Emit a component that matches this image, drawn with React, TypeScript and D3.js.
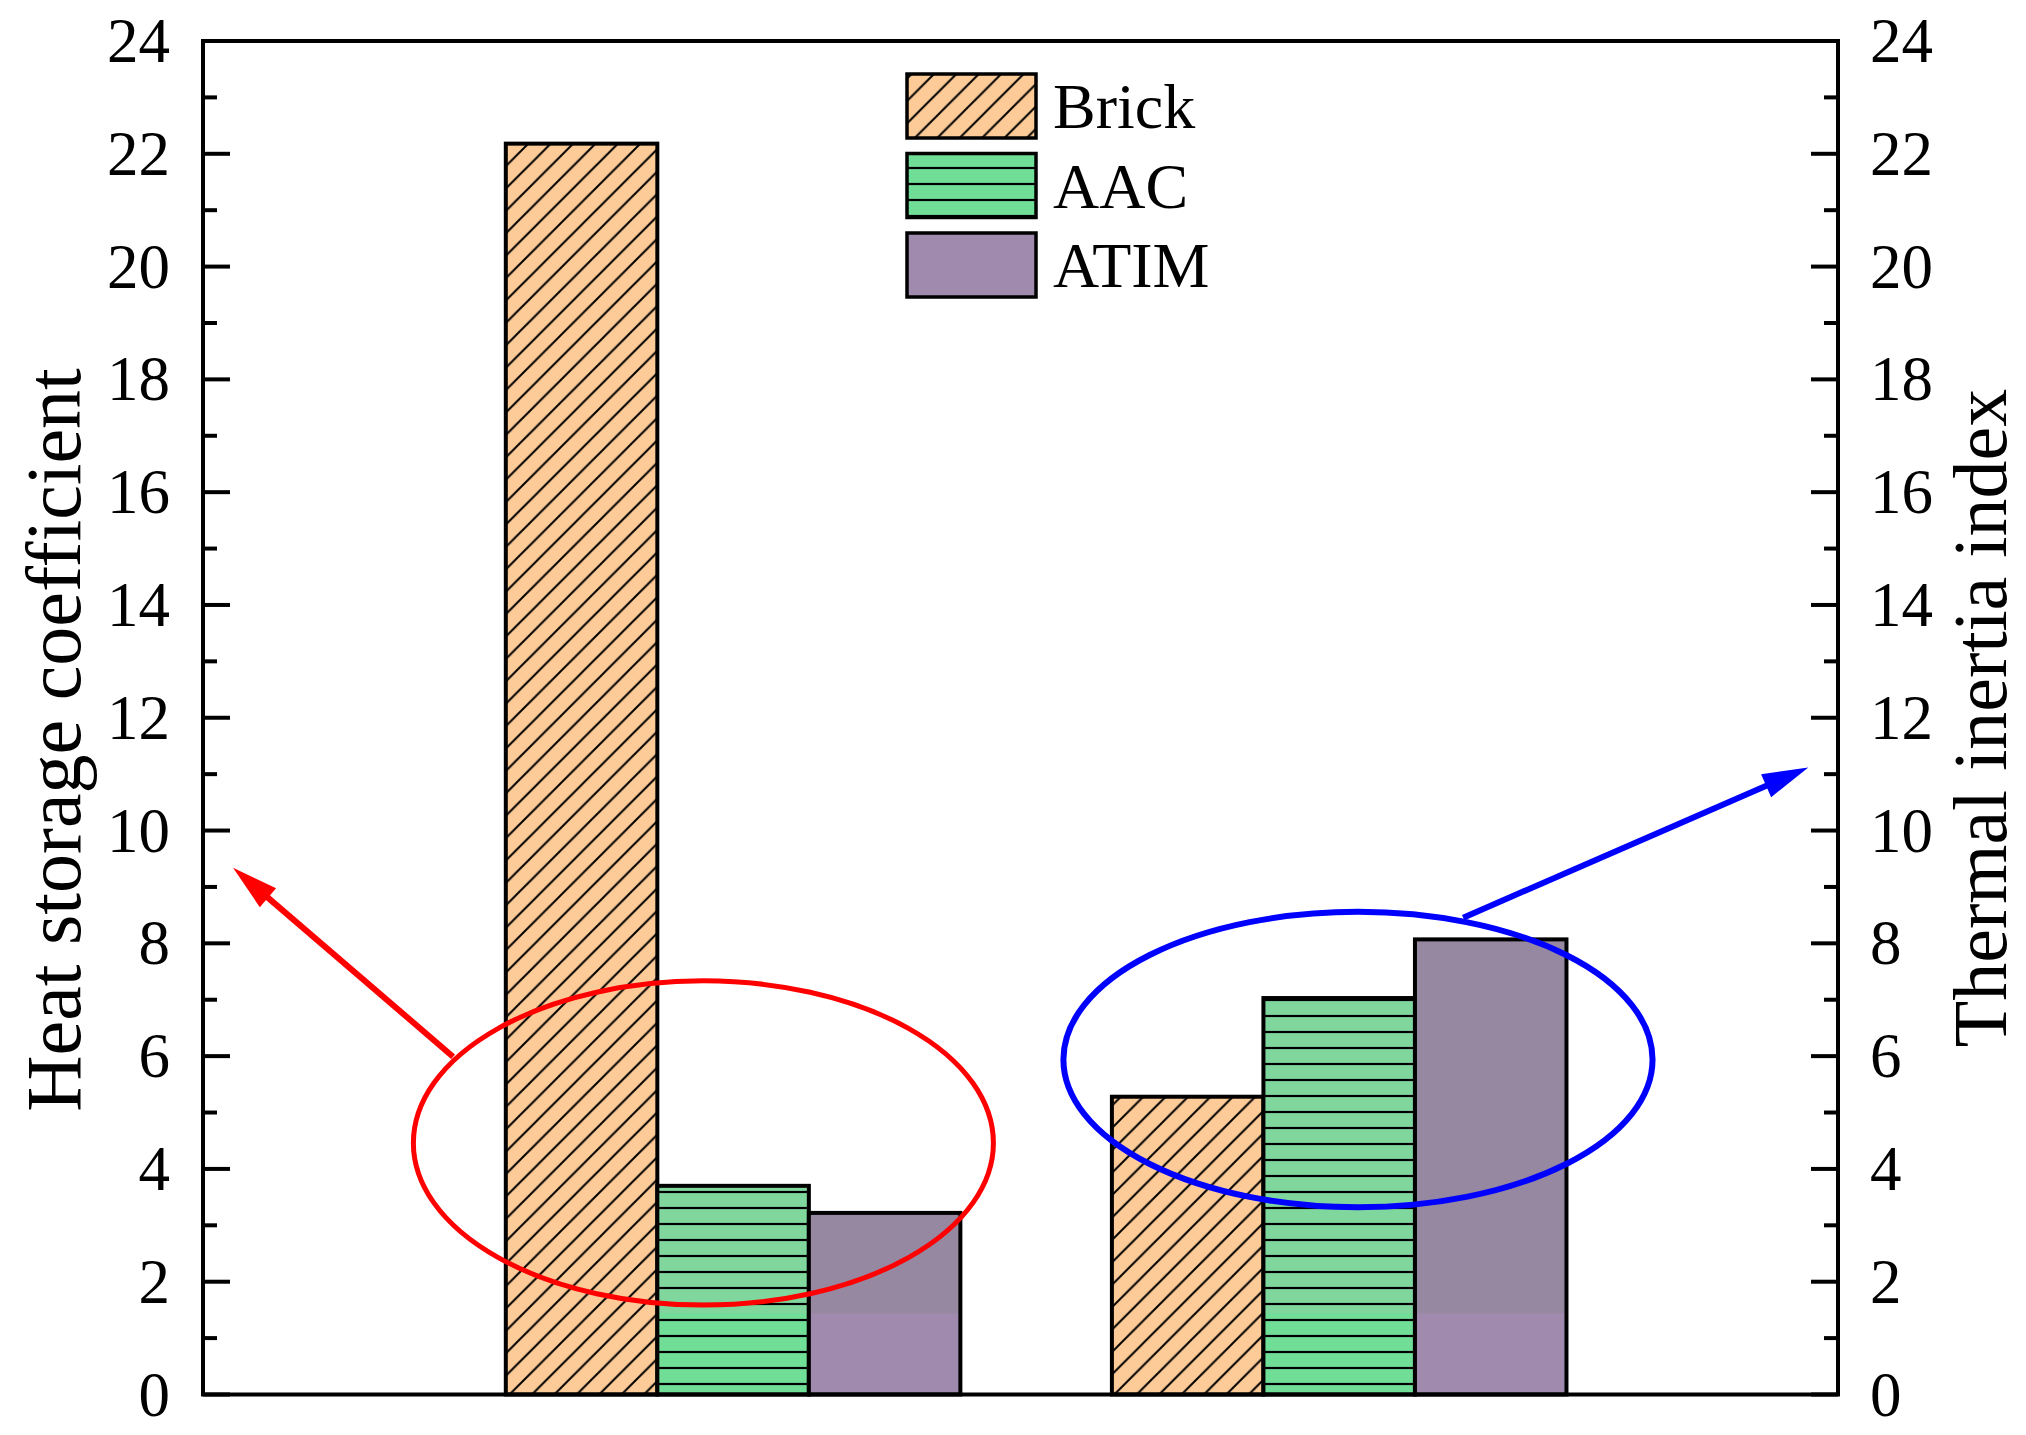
import React from 'react';
import * as d3 from 'd3';

// ---------- data ----------
const groupPositions = [1, 2]; // left group: heat storage coefficient, right group: thermal inertia index
const seriesNames = ['Brick', 'AAC', 'ATIM'];
const brickValues = [22.18, 5.28];
const aacValues = [3.7, 7.03];
const atimValues = [3.22, 8.07];
const yTickValues = [0, 2, 4, 6, 8, 10, 12, 14, 16, 18, 20, 22, 24];
const yMinorValues = [1, 3, 5, 7, 9, 11, 13, 15, 17, 19, 21, 23];

// annotations in data coordinates
const redEllipse = [0.951, 4.46, 0.4785, 2.875]; // cx, cy, rx, ry
const blueEllipse = [2.031, 5.94, 0.486, 2.62];
const redArrow = [0.538, 5.99, 0.175, 9.34]; // x1,y1 -> x2,y2 (tip)
const blueArrow = [2.2046, 8.455, 2.774, 11.12];

const X_DOMAIN = [0.1254, 2.823];
const Y_DOMAIN = [0, 24];
const BAR_WIDTH = 0.25;
const SHADE_SPLIT = 1.44;

const FONT = "'Times New Roman', 'Liberation Serif', serif";

const seriesValues = [brickValues, aacValues, atimValues];
const baseColors = ['#FDCB97', '#70DE96', '#A08AAD'];
const upperColors = ['#FDCB97', '#80D79E', '#9688A1'];
const patterns = ['url(#hatchDiag)', 'url(#hatchHoriz)', null];

function Arrow({ x1, y1, x2, y2, color }) {
  const dx = x2 - x1, dy = y2 - y1;
  const len = Math.sqrt(dx * dx + dy * dy);
  const ux = dx / len, uy = dy / len;
  const headLen = 46, headHalf = 12.5;
  const bx = x2 - ux * headLen, by = y2 - uy * headLen;
  const px = -uy, py = ux;
  const pts = [
    [x2, y2],
    [bx + px * headHalf, by + py * headHalf],
    [bx - px * headHalf, by - py * headHalf],
  ];
  return (
    <g>
      <line x1={x1} y1={y1} x2={bx + ux * 4} y2={by + uy * 4} stroke={color} strokeWidth={6} />
      <polygon points={pts.map((p) => p.join(',')).join(' ')} fill={color} />
    </g>
  );
}

export default function App() {
  const W = 2026, H = 1435;
  const left = 203, right = 1838, top = 41, bottom = 1394.5;
  const x = d3.scaleLinear().domain(X_DOMAIN).range([left, right]);
  const y = d3.scaleLinear().domain(Y_DOMAIN).range([bottom, top]);
  const bw = x(BAR_WIDTH) - x(0);

  const bars = [];
  seriesValues.forEach((vals, si) => {
    vals.forEach((v, gi) => {
      const cx = x(groupPositions[gi] + (si - 1) * BAR_WIDTH);
      const x0 = cx - bw / 2;
      const yt = y(v);
      const yb = y(0);
      const ys = y(SHADE_SPLIT);
      bars.push(
        <g key={`${si}-${gi}`}>
          <rect x={x0} y={yt} width={bw} height={yb - yt} fill={baseColors[si]} />
          {upperColors[si] !== baseColors[si] && ys > yt && (
            <rect x={x0} y={yt} width={bw} height={ys - yt} fill={upperColors[si]} />
          )}
          {patterns[si] && <rect x={x0} y={yt} width={bw} height={yb - yt} fill={patterns[si]} />}
          <rect x={x0} y={yt} width={bw} height={yb - yt} fill="none" stroke="#000" strokeWidth={4} />
        </g>
      );
    });
  });

  const legendX = 907, legendW = 129, legendH = 64;
  const legendY = [74, 153.5, 233];

  const ell = (e, color, sw) => (
    <ellipse
      cx={x(e[0])}
      cy={y(e[1])}
      rx={x(e[2]) - x(0)}
      ry={y(0) - y(e[3])}
      fill="none"
      stroke={color}
      strokeWidth={sw}
    />
  );

  return (
    <svg
      width={W}
      height={H}
      viewBox={`0 0 ${W} ${H}`}
      style={{ position: 'absolute', left: 0, top: 0, background: '#fff' }}
      fontFamily={FONT}
    >
      <defs>
        <pattern id="hatchDiag" patternUnits="userSpaceOnUse" width={22.4} height={22.4}>
          <path
            d="M-5.6,5.6 L5.6,-5.6 M0,22.4 L22.4,0 M16.8,28 L28,16.8"
            stroke="#000"
            strokeWidth={2}
          />
        </pattern>
        <pattern id="hatchHoriz" patternUnits="userSpaceOnUse" width={20} height={16}>
          <line x1={0} y1={8} x2={20} y2={8} stroke="#000" strokeWidth={2.2} />
        </pattern>
      </defs>
      <rect x={0} y={0} width={W} height={H} fill="#fff" />

      {bars}

      {/* frame */}
      <rect x={left} y={top} width={right - left} height={bottom - top} fill="none" stroke="#000" strokeWidth={4} />

      {/* ticks */}
      {yTickValues.map((t) => (
        <g key={`t${t}`}>
          <line x1={left} x2={left + 27} y1={y(t)} y2={y(t)} stroke="#000" strokeWidth={4} />
          <line x1={right} x2={right - 27} y1={y(t)} y2={y(t)} stroke="#000" strokeWidth={4} />
          <text x={170} y={y(t) + 21} fontSize={63} textAnchor="end" fill="#000">
            {t}
          </text>
          <text x={1870} y={y(t) + 21} fontSize={63} textAnchor="start" fill="#000">
            {t}
          </text>
        </g>
      ))}
      {yMinorValues.map((t) => (
        <g key={`m${t}`}>
          <line x1={left} x2={left + 14} y1={y(t)} y2={y(t)} stroke="#000" strokeWidth={4} />
          <line x1={right} x2={right - 14} y1={y(t)} y2={y(t)} stroke="#000" strokeWidth={4} />
        </g>
      ))}

      {/* axis titles */}
      <text transform={`translate(80, 740) rotate(-90)`} fontSize={78} textAnchor="middle" fill="#000">
        Heat storage coefficient
      </text>
      <text transform={`translate(2006, 718) rotate(-90)`} fontSize={76} textAnchor="middle" fill="#000">
        Thermal inertia index
      </text>

      {/* legend */}
      {seriesNames.map((name, i) => (
        <g key={name}>
          <rect x={legendX} y={legendY[i]} width={legendW} height={legendH} fill={baseColors[i]} />
          {patterns[i] && (
            <rect x={legendX} y={legendY[i]} width={legendW} height={legendH} fill={patterns[i]} />
          )}
          <rect
            x={legendX}
            y={legendY[i]}
            width={legendW}
            height={legendH}
            fill="none"
            stroke="#000"
            strokeWidth={3.5}
          />
          <text x={1053} y={legendY[i] + legendH / 2 + 22} fontSize={64} fill="#000">
            {name}
          </text>
        </g>
      ))}

      {/* annotations */}
      {ell(redEllipse, '#FF0000', 5)}
      {ell(blueEllipse, '#0000FF', 6)}
      <Arrow x1={x(redArrow[0])} y1={y(redArrow[1])} x2={x(redArrow[2])} y2={y(redArrow[3])} color="#FF0000" />
      <Arrow x1={x(blueArrow[0])} y1={y(blueArrow[1])} x2={x(blueArrow[2])} y2={y(blueArrow[3])} color="#0000FF" />
    </svg>
  );
}
